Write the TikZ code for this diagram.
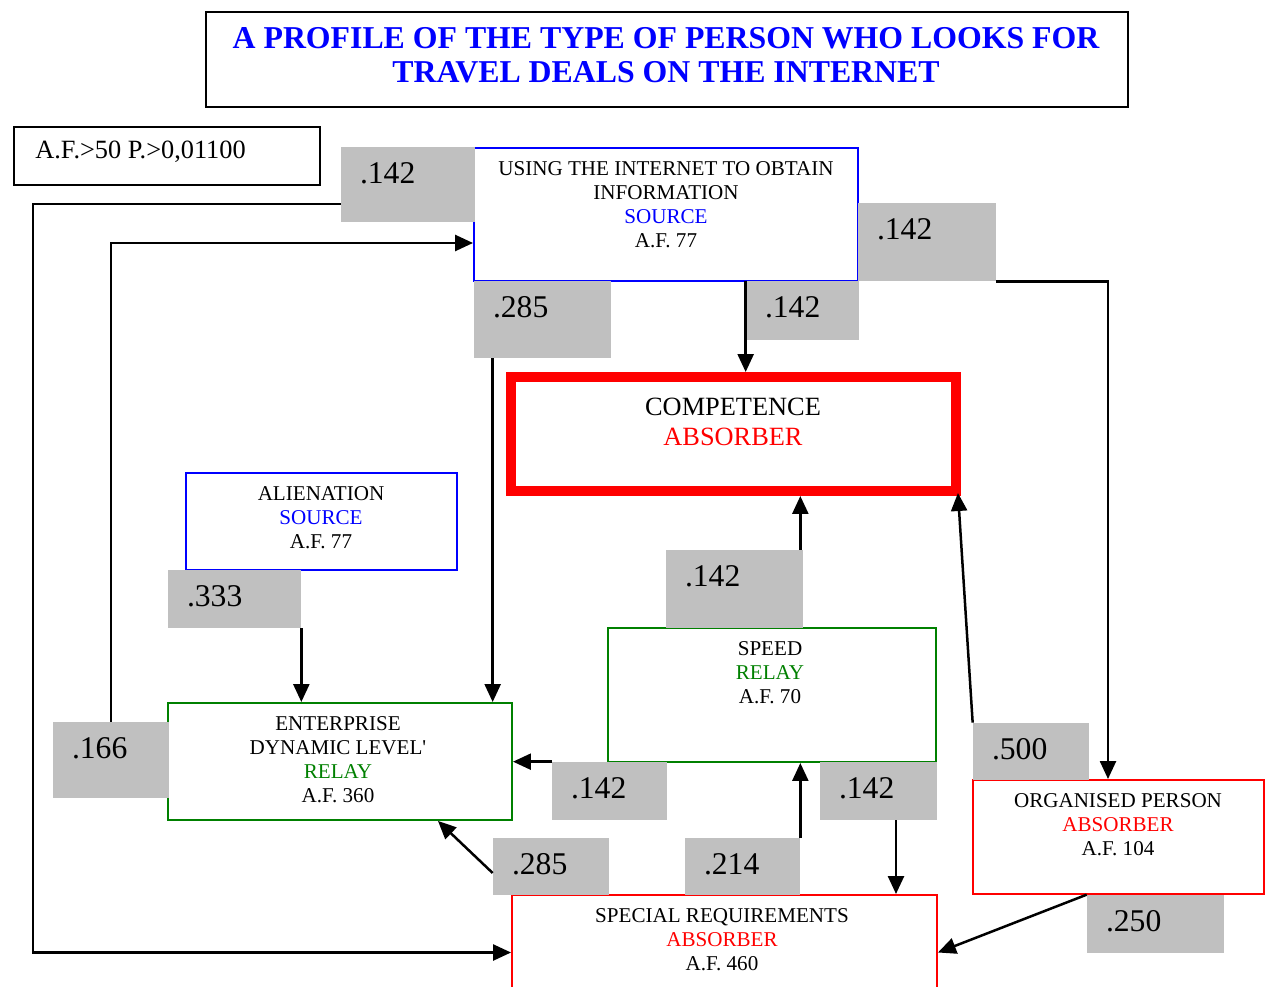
\documentclass[tikz,border=0pt]{standalone}
\usepackage{fontspec}
\setmainfont{Liberation Serif}
\usetikzlibrary{arrows.meta,calc}
\definecolor{wtgray}{RGB}{192,192,192}
\definecolor{relaygreen}{RGB}{0,128,0}

\begin{document}
\begin{tikzpicture}[x=0.02cm,y=-0.02cm,
  box/.style={draw, line width=0.04cm, inner sep=0pt},
  boxtxt/.style={align=center, inner sep=0pt, font=\fontsize{12}{13.6}\selectfont},
  wt/.style={fill=wtgray, inner sep=0pt},
  num/.style={anchor=west, inner sep=0pt, xshift=0.38cm, yshift=-0.53cm, font=\fontsize{18}{20}\selectfont},
  arr/.style={line width=0.05cm, -{Triangle[length=0.36cm,width=0.32cm]}}]
\clip (0,0) rectangle (1271,987);

\node[box, line width=0.05cm, minimum width=18.44cm, minimum height=1.9cm] (title) at (667,59.5) {};
\node[align=center, inner sep=0pt, text=blue, font=\bfseries\fontsize{18.1}{19.3}\selectfont] (titletxt) at (666,55) {A PROFILE OF THE TYPE OF PERSON WHO LOOKS FOR\\TRAVEL DEALS ON THE INTERNET};

\node[box, line width=0.05cm, minimum width=6.12cm, minimum height=1.16cm] (af) at (167,156) {};
\node[anchor=west, inner sep=0pt, font=\fontsize{15}{17}\selectfont] (aftxt) at (35,152) {A.F.>50 P.>0,01100};

% factor boxes
\node[box, draw=blue, minimum width=7.68cm, minimum height=2.66cm] (using) at (666,214.5) {};
\node[boxtxt] (usingtxt) at (666,205) {USING THE INTERNET TO OBTAIN\\INFORMATION\\{\color{blue}SOURCE}\\A.F. 77};

\node[box, draw=red, line width=0.2cm, minimum width=8.9cm, minimum height=2.28cm] (comp) at (733.5,434) {};
\node[align=center, inner sep=0pt, font=\fontsize{15}{17}\selectfont] (comptxt) at (733,422) {COMPETENCE\\{\color{red}ABSORBER}};

\node[box, draw=blue, minimum width=5.42cm, minimum height=1.94cm] (alien) at (321.5,521.5) {};
\node[boxtxt] (alientxt) at (321,518) {ALIENATION\\{\color{blue}SOURCE}\\A.F. 77};

\node[box, draw=relaygreen, minimum width=6.56cm, minimum height=2.68cm] (speed) at (772,695) {};
\node[boxtxt] (speedtxt) at (770,673) {SPEED\\{\color{relaygreen}RELAY}\\A.F. 70};

\node[box, draw=relaygreen, minimum width=6.88cm, minimum height=2.34cm] (enter) at (340,761.5) {};
\node[boxtxt] (entertxt) at (338,760) {ENTERPRISE\\DYNAMIC LEVEL\textquotesingle\\{\color{relaygreen}RELAY}\\A.F. 360};

\node[box, draw=red, minimum width=5.82cm, minimum height=2.28cm] (organ) at (1118.5,837) {};
\node[boxtxt] (organtxt) at (1118,825) {ORGANISED PERSON\\{\color{red}ABSORBER}\\A.F. 104};

\node[box, draw=red, minimum width=8.5cm, minimum height=2.3cm] (spec) at (724.5,952.5) {};
\node[boxtxt] (spectxt) at (722,940) {SPECIAL REQUIREMENTS\\{\color{red}ABSORBER}\\A.F. 460};

% weights
\node[wt, minimum width=2.68cm, minimum height=1.5cm, label={[num]north west:.142}] (w1) at (408,184.5) {};
\node[wt, minimum width=2.76cm, minimum height=1.56cm, label={[num]north west:.142}] (w2) at (927,242) {};
\node[wt, minimum width=2.74cm, minimum height=1.54cm, label={[num]north west:.285}] (w3) at (542.5,319.5) {};
\node[wt, minimum width=2.26cm, minimum height=1.18cm, label={[num]north west:.142}] (w4) at (802.5,310.5) {};
\node[wt, minimum width=2.66cm, minimum height=1.16cm, label={[num]north west:.333}] (w5) at (234.5,599) {};
\node[wt, minimum width=2.74cm, minimum height=1.56cm, label={[num]north west:.142}] (w6) at (734.5,589) {};
\node[wt, minimum width=2.32cm, minimum height=1.52cm, label={[num]north west:.166}] (w7) at (111,760) {};
\node[wt, minimum width=2.3cm, minimum height=1.16cm, label={[num]north west:.142}] (w8) at (609.5,791) {};
\node[wt, minimum width=2.34cm, minimum height=1.16cm, label={[num]north west:.142}] (w9) at (878.5,791) {};
\node[wt, minimum width=2.32cm, minimum height=1.14cm, label={[num]north west:.500}] (w10) at (1031,751.5) {};
\node[wt, minimum width=2.32cm, minimum height=1.14cm, label={[num]north west:.285}] (w11) at (551,866.5) {};
\node[wt, minimum width=2.3cm, minimum height=1.14cm, label={[num]north west:.214}] (w12) at (742.5,866.5) {};
\node[wt, minimum width=2.74cm, minimum height=1.16cm, label={[num]north west:.250}] (w13) at (1155.5,924) {};

% links
\coordinate (rail) at (33,600);
\draw[arr] ([yshift=-0.39cm]w1.west) -| (rail) |- (spec.west);
\draw[arr] (w7.north) |- ([yshift=-0.57cm]using.west);
\draw[arr] ([xshift=0.38cm]w3.south west) -- ([xshift=0.38cm]w3.south west |- enter.north);
\draw[arr] (w4.north west) -- (w4.north west |- comp.north);
\draw[arr] (w2.south east) -| ([xshift=-0.21cm]organ.north);
\draw[arr] (w5.south east) -- (w5.south east |- enter.north);
\draw[arr] ([xshift=-0.06cm]w6.north east) -- ([xshift=-0.06cm]w6.north east |- comp.south);
\draw[arr] (w8.north west) -- (enter.east |- w8.north west);
\draw[arr] (w12.north east) -- (w12.north east |- speed.south);
\draw[arr] ([xshift=0.35cm]w9.south) -- ([xshift=0.35cm]w9.south |- spec.north);
\draw[arr] ([yshift=-0.13cm]w11.west) -- ([xshift=1.96cm]enter.south);
\draw[arr] (w10.north west) -- ([xshift=-0.06cm,yshift=0.06cm]comp.south east);
\draw[arr] (w13.north west) -- (spec.east);

\end{tikzpicture}
\end{document}
